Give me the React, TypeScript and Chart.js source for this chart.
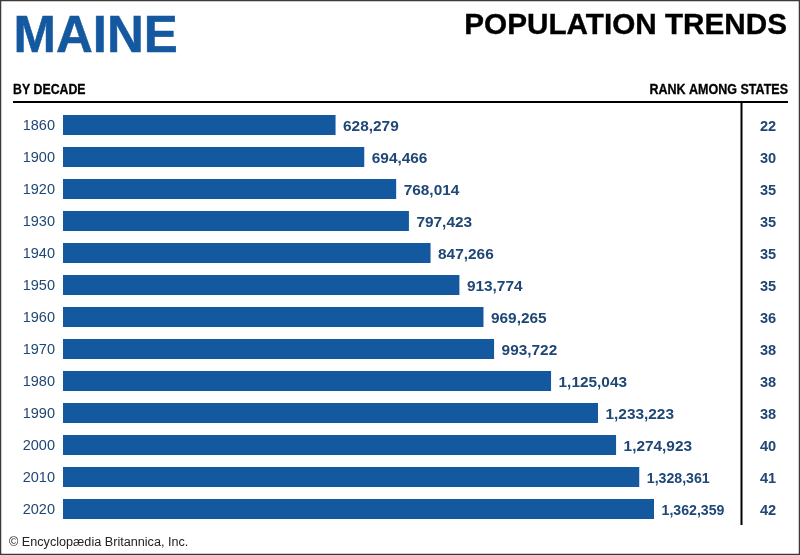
import React, { useEffect, useRef } from "react";
import { Chart, registerables } from "chart.js";

Chart.register(...registerables);

const decades = ["1860", "1900", "1920", "1930", "1940", "1950", "1960", "1970", "1980", "1990", "2000", "2010", "2020"];
const population = [628279, 694466, 768014, 797423, 847266, 913774, 969265, 993722, 1125043, 1233223, 1274923, 1328361, 1362359];
const ranks = [22, 30, 35, 35, 35, 35, 36, 38, 38, 38, 40, 41, 42];

const BLUE = "#14589f";
const LABEL = "#1f4675";
const SANS = '"Liberation Sans", Arial, sans-serif';

function put(ctx: any, text: string, x: number, y: number, font: string, color: string, align: string, scaleX = 1, heft = 0) {
  ctx.save();
  ctx.translate(x, y);
  ctx.scale(scaleX, 1);
  ctx.font = font;
  ctx.fillStyle = color;
  ctx.textAlign = align;
  ctx.textBaseline = "alphabetic";
  ctx.fillText(text, 0, 0);
  if (heft > 0) {
    ctx.strokeStyle = color;
    ctx.lineWidth = heft;
    ctx.strokeText(text, 0, 0);
  }
  ctx.restore();
}

const annotations = {
  id: "annotations",
  beforeDraw(chart: any) {
    chart.ctx.save();
    chart.ctx.translate(0, 1);
  },
  beforeDatasetsDraw(chart: any) {
    chart.ctx.restore();
  },
  afterDatasetsDraw(chart: any) {
    const { ctx, chartArea, scales } = chart;
    const meta = chart.getDatasetMeta(0);
    const nf = new Intl.NumberFormat("en-US");
    meta.data.forEach((bar: any, i: number) => {
      const squeeze = i >= 11 ? 0.92 : 1;
      put(ctx, nf.format(population[i]), bar.x + 7.5, bar.y + 5.5, `bold 15.4px ${SANS}`, LABEL, "left", squeeze);
      put(ctx, String(ranks[i]), 768, scales.y.getPixelForValue(i) + 5.5, `bold 14.6px ${SANS}`, LABEL, "center");
    });

    ctx.save();
    ctx.fillStyle = "#000";
    ctx.fillRect(13, 101, 775, 2);
    ctx.fillRect(chartArea.right - 0.5, 102, 2, chartArea.bottom - 102);
    ctx.strokeStyle = "#3a3a3a";
    ctx.lineWidth = 1.5;
    ctx.strokeRect(0.5, 0.5, 799, 554);
    ctx.restore();

    put(ctx, "MAINE", 13.5, 52, `bold 51px ${SANS}`, BLUE, "left", 1, 0.5);
    put(ctx, "POPULATION TRENDS", 787, 34, `bold 29.7px ${SANS}`, "#000", "right", 1, 0.35);
    put(ctx, "BY DECADE", 13, 94, `bold 14.5px ${SANS}`, "#000", "left", 0.85, 0.3);
    put(ctx, "RANK AMONG STATES", 788, 94, `bold 14.5px ${SANS}`, "#000", "right", 0.863, 0.3);
    put(ctx, "© Encyclopædia Britannica, Inc.", 9, 546, `12.65px ${SANS}`, "#222", "left");
  },
};

export default function App() {
  const ref = useRef<HTMLCanvasElement | null>(null);
  useEffect(() => {
    const chart = new Chart(ref.current as HTMLCanvasElement, {
      type: "bar",
      data: {
        labels: decades,
        datasets: [
          {
            data: population,
            backgroundColor: BLUE,
            borderWidth: 0,
            categoryPercentage: 1,
            barPercentage: 0.625,
          },
        ],
      },
      options: {
        indexAxis: "y",
        animation: false,
        responsive: false,
        devicePixelRatio: 1,
        layout: { padding: { top: 109, bottom: 30, left: 0, right: 59 } },
        plugins: { legend: { display: false }, title: { display: false }, tooltip: { enabled: false } },
        scales: {
          x: { display: false, min: 0, max: 1562900 },
          y: {
            grid: { display: false, drawTicks: false },
            border: { display: false },
            afterFit(scale: any) {
              scale.width = 63;
            },
            ticks: {
              color: LABEL,
              padding: 8,
              font: { family: SANS, size: 14.5 },
            },
          },
        },
      },
      plugins: [annotations],
    } as any);
    return () => chart.destroy();
  }, []);
  return (
    <canvas
      ref={ref}
      width={800}
      height={555}
      style={{ position: "absolute", left: 0, top: 0, display: "block", background: "#fff" }}
    />
  );
}
